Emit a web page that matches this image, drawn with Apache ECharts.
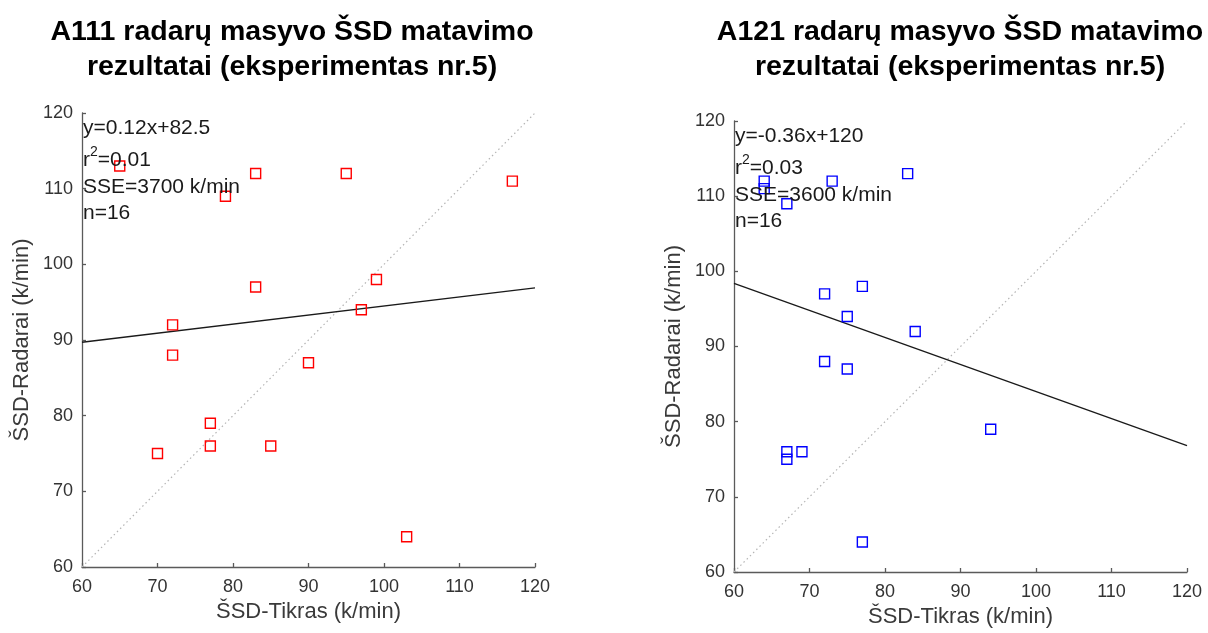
<!DOCTYPE html>
<html>
<head>
<meta charset="utf-8">
<script src="https://cdn.jsdelivr.net/npm/echarts@6/dist/echarts.min.js"></script>
<style>
  html, body { margin: 0; padding: 0; background: #ffffff; }
  #chart { width: 1208px; height: 633px; }
</style>
</head>
<body>
<div id="chart"></div>
<script>
// ---- data -------------------------------------------------------------
// A111 array: true speed vs. radar speed (k/min)
const a111Tikras  = [65, 83, 95, 117, 79, 99, 83, 97, 72, 72, 90, 77, 77, 85, 70, 103];
const a111Radarai = [113, 112, 112, 111, 109, 98, 97, 94, 92, 88, 87, 79, 76, 76, 75, 64];
const a111Fit     = [0.12, 82.5];            // slope, intercept
const a111Stats   = ['y=0.12x+82.5', '0.01', 'SSE=3700 k/min', 'n=16'];

// A121 array
const a121Tikras  = [64, 64, 73, 83, 67, 77, 72, 75, 84, 72, 75, 94, 67, 67, 69, 77];
const a121Radarai = [112, 111, 112, 113, 109, 98, 97, 94, 92, 88, 87, 79, 76, 75, 76, 64];
const a121Fit     = [-0.36, 120];
const a121Stats   = ['y=-0.36x+120', '0.03', 'SSE=3600 k/min', 'n=16'];

const axisTicks = [60, 70, 80, 90, 100, 110, 120];
const titleA111 = ['A111 radarų masyvo ŠSD matavimo', 'rezultatai (eksperimentas nr.5)'];
const titleA121 = ['A121 radarų masyvo ŠSD matavimo', 'rezultatai (eksperimentas nr.5)'];
const xName = 'ŠSD-Tikras (k/min)';
const yName = 'ŠSD-Radarai (k/min)';

// ---- layout -----------------------------------------------------------
const panels = [
  { grid: { left: 82,  top: 113, width: 453, height: 454 }, titleX: 292, color: '#ff0000',
    xs: a111Tikras, ys: a111Radarai, fit: a111Fit, stats: a111Stats, title: titleA111 },
  { grid: { left: 734, top: 121, width: 453, height: 452 }, titleX: 960, color: '#0000ff',
    xs: a121Tikras, ys: a121Radarai, fit: a121Fit, stats: a121Stats, title: titleA121 }
];

const axMin = axisTicks[0];
const axMax = axisTicks[axisTicks.length - 1];
const axStep = axisTicks[1] - axisTicks[0];
const FONT = '"Liberation Sans", Arial, sans-serif';

function axisCommon(gridIndex) {
  return {
    gridIndex: gridIndex,
    type: 'value',
    min: axMin, max: axMax, interval: axStep,
    nameLocation: 'middle',
    nameTextStyle: { fontFamily: FONT, fontSize: 22, color: '#3a3a3a' },
    axisLine: { show: true, onZero: false, lineStyle: { color: '#5a5a5a', width: 1.3 } },
    axisTick: { show: true, inside: true, length: 4, lineStyle: { color: '#5a5a5a', width: 1.3 } },
    axisLabel: { fontFamily: FONT, fontSize: 18, color: '#333333' },
    splitLine: { show: false }
  };
}

const grids = [], xAxes = [], yAxes = [], series = [], graphics = [];

panels.forEach(function (p, i) {
  grids.push(Object.assign({ containLabel: false }, p.grid));

  const xa = axisCommon(i);
  xa.name = xName;
  xa.nameGap = 34;
  xa.axisLabel.margin = 11;
  xAxes.push(xa);

  const ya = axisCommon(i);
  ya.name = yName;
  ya.nameGap = 49;
  ya.axisLabel.margin = 9;
  yAxes.push(ya);

  // identity reference line y = x
  series.push({
    type: 'line', xAxisIndex: i, yAxisIndex: i, symbol: 'none', silent: true,
    data: [[axMin, axMin], [axMax, axMax]],
    lineStyle: { color: '#b5b5b5', width: 1.2, type: [1.5, 3] },
    z: 1
  });

  // least-squares fit line from the stated equation
  const fitPts = [axMin, axMax].map(function (x) { return [x, p.fit[0] * x + p.fit[1]]; });
  series.push({
    type: 'line', xAxisIndex: i, yAxisIndex: i, symbol: 'none', silent: true,
    data: fitPts,
    lineStyle: { color: '#1a1a1a', width: 1.3 },
    z: 2
  });

  // measurements
  series.push({
    type: 'scatter', xAxisIndex: i, yAxisIndex: i,
    symbol: 'rect', symbolSize: 10,
    data: p.xs.map(function (x, k) { return [x, p.ys[k]]; }),
    itemStyle: { color: 'rgba(0,0,0,0)', borderColor: p.color, borderWidth: 1.4, opacity: 1 },
    z: 3
  });

  // chart title (two centred lines)
  p.title.forEach(function (line, k) {
    graphics.push({
      type: 'text', x: p.titleX, y: 32 + k * 35, z: 10,
      style: {
        text: line, align: 'center', verticalAlign: 'middle',
        font: 'bold 28.5px ' + FONT, fill: '#000000'
      }
    });
  });

  // regression statistics in the upper-left corner of the axes
  const tx = p.grid.left + 1;
  const ty = p.grid.top;
  const offs = [15, 47, 74, 100];
  const statFont = FONT;
  graphics.push({
    type: 'text', x: tx, y: ty + offs[0], z: 10,
    style: { text: p.stats[0], verticalAlign: 'middle', fontFamily: statFont, fontSize: 21, fill: '#1a1a1a' }
  });
  graphics.push({
    type: 'text', x: tx, y: ty + offs[1], z: 10,
    style: {
      text: '{m|r}{s|2}{m|=' + p.stats[1] + '}', verticalAlign: 'middle',
      rich: {
        m: { fontFamily: statFont, fontSize: 21, lineHeight: 30, fill: '#1a1a1a', verticalAlign: 'middle' },
        s: { fontFamily: statFont, fontSize: 14, lineHeight: 14, fill: '#1a1a1a', verticalAlign: 'top' }
      }
    }
  });
  graphics.push({
    type: 'text', x: tx, y: ty + offs[2], z: 10,
    style: { text: p.stats[2], verticalAlign: 'middle', fontFamily: statFont, fontSize: 21, fill: '#1a1a1a' }
  });
  graphics.push({
    type: 'text', x: tx, y: ty + offs[3], z: 10,
    style: { text: p.stats[3], verticalAlign: 'middle', fontFamily: statFont, fontSize: 21, fill: '#1a1a1a' }
  });
});

const chart = echarts.init(document.getElementById('chart'), null, { renderer: 'canvas' });
chart.setOption({
  backgroundColor: '#ffffff',
  animation: false,
  grid: grids,
  xAxis: xAxes,
  yAxis: yAxes,
  series: series,
  graphic: graphics
});
</script>
</body>
</html>
